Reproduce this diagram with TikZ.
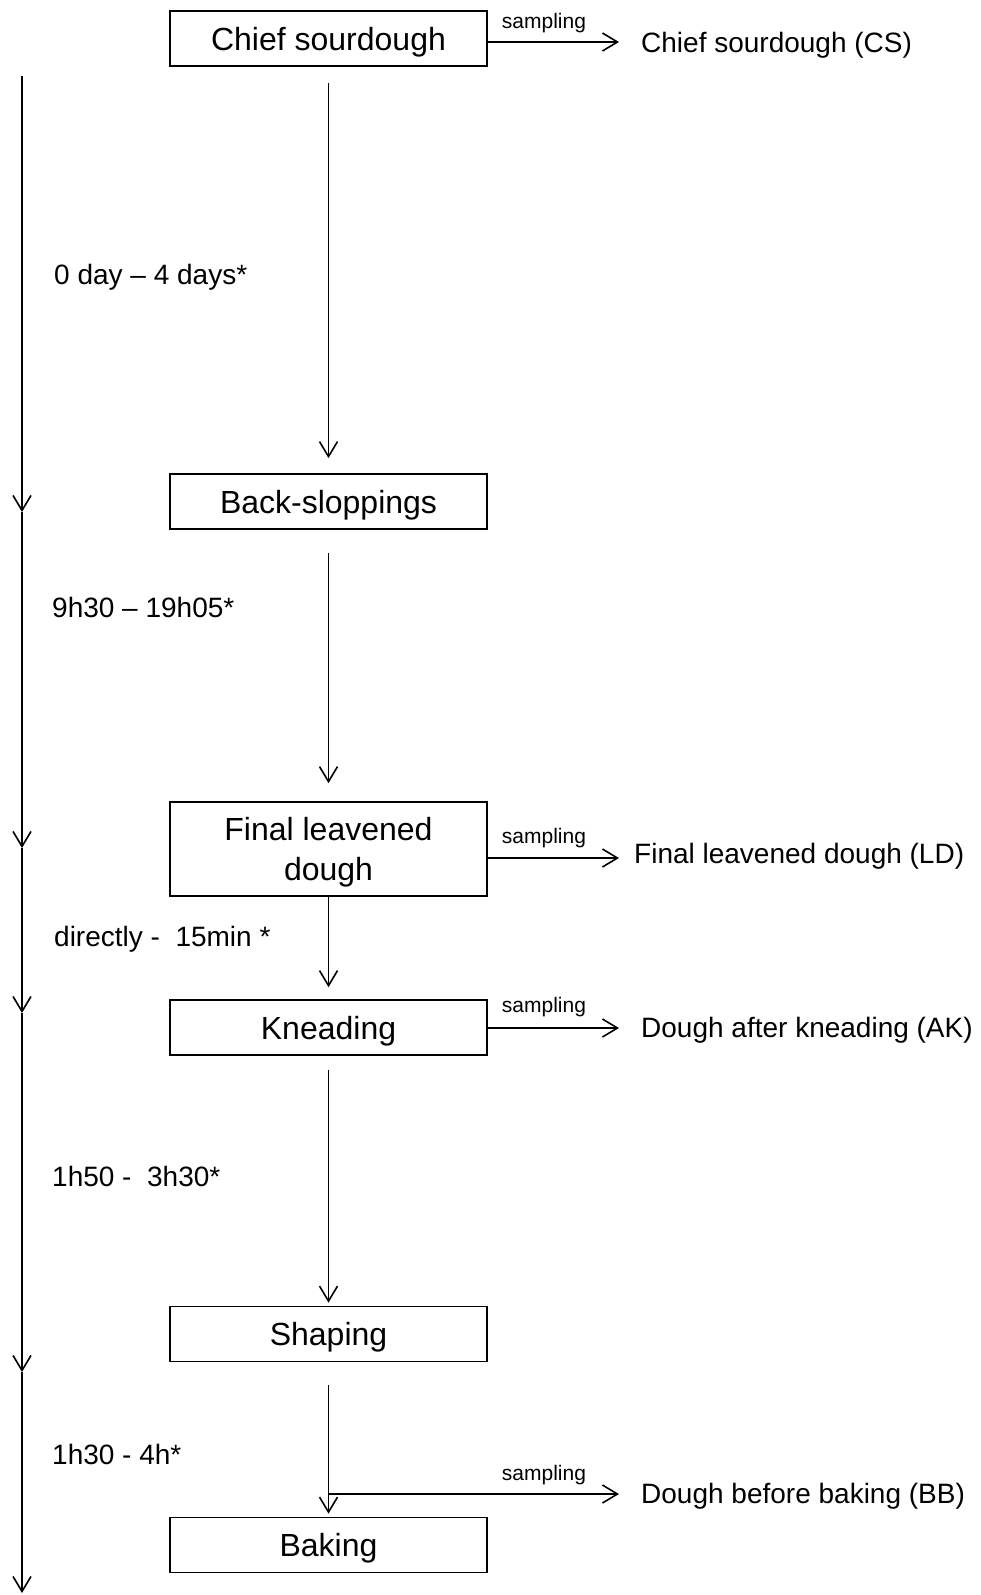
\documentclass[tikz,border=0pt]{standalone}
\usepackage{fontspec}
\setmainfont{Liberation Sans}
\usetikzlibrary{arrows.meta}
\begin{document}
\begin{tikzpicture}[x=1pt,y=-1pt,
  stepbox/.style={draw, line width=1.7pt, minimum width=317pt, minimum height=55pt, inner sep=0pt, text depth=0pt, font=\fontsize{32}{40}\selectfont, align=center},
  arr/.style={line width=1.6pt, -{Straight Barb[length=15pt,width=18pt]}},
  side/.style={anchor=west, inner sep=0pt, font=\fontsize{28}{34}\selectfont},
  samp/.style={inner sep=0pt, font=\fontsize{21}{25}\selectfont},
  dur/.style={anchor=west, inner sep=0pt, font=\fontsize{28}{34}\selectfont}]
\useasboundingbox (0,0) rectangle (980,1595);

% process boxes
\node[stepbox] (cs) at (328.5,38.5) {Chief sourdough};
\node[stepbox] (bs) at (328.5,501.5) {Back-sloppings};
\node[stepbox, minimum height=94pt] (fld) at (328.5,849) {Final leavened\\dough};
\node[stepbox] (kn) at (328.5,1027.5) {Kneading};
\node[stepbox] (sh) at (328.5,1334) {Shaping};
\node[stepbox] (bk) at (328.5,1545) {Baking};

% main flow arrows
\draw[arr] ([yshift=-16pt]cs.south) -- ([yshift=15pt]bs.north);
\draw[arr] ([yshift=-23pt]bs.south) -- ([yshift=18pt]fld.north);
\draw[arr] (fld.south) -- ([yshift=12pt]kn.north);
\draw[arr] ([yshift=-14pt]kn.south) -- ([yshift=3pt]sh.north);
\draw[arr] ([yshift=-23pt]sh.south) -- ([yshift=3pt]bk.north);

% sampled products
\node[side] (cst) at (641,45) {Chief sourdough (CS)};
\node[side] (ldt) at (634,856) {Final leavened dough (LD)};
\node[side] (akt) at (641,1030) {Dough after kneading (AK)};
\node[side] (bbt) at (641,1496) {Dough before baking (BB)};

\coordinate (csend) at (619,42);
\coordinate (ldend) at (619,858);
\coordinate (akend) at (619,1028);
\coordinate (bbend) at (619,1494);
\coordinate (bbj) at (328.5,1494);

\draw[arr] (cs.east |- csend) -- (csend);
\draw[arr] (fld.east |- ldend) -- (ldend);
\draw[arr] (kn.east |- akend) -- (akend);
\draw[arr] (bbj) -- (bbend);

\node[samp] (s1) at (544,23) {sampling};
\node[samp] (s2) at (544,838) {sampling};
\node[samp] (s3) at (544,1007) {sampling};
\node[samp] (s4) at (544,1475) {sampling};

% time line
\coordinate (t0) at (22,76);
\coordinate (t1) at (22,512);
\coordinate (t2) at (22,848);
\coordinate (t3) at (22,1013);
\coordinate (t4) at (22,1372);
\coordinate (t5) at (22,1593);
\draw[arr] (t0) -- (t1);
\draw[arr] (t1) -- (t2);
\draw[arr] (t2) -- (t3);
\draw[arr] (t3) -- (t4);
\draw[arr] (t4) -- (t5);

% durations
\node[dur] (d1) at (54,277) {0 day -- 4 days*};
\node[dur] (d2) at (52,607) {9h30 -- 19h05*};
\node[dur] (d3) at (54,939) {directly - \ 15min *};
\node[dur] (d4) at (52,1176) {1h50 - \ 3h30*};
\node[dur] (d5) at (52,1454) {1h30 - 4h*};
\end{tikzpicture}
\end{document}
